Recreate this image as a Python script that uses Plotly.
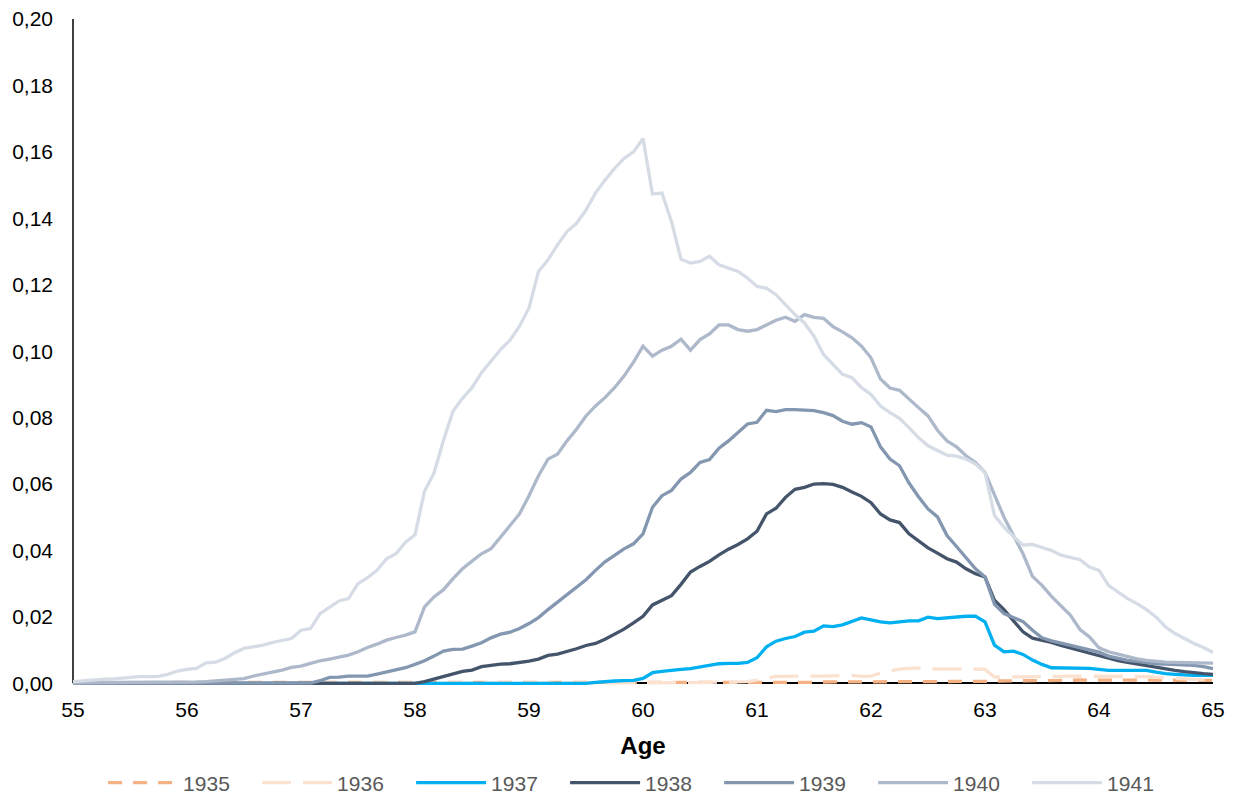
import plotly.graph_objects as go

# Age in months from 55 to 65 (monthly observations)
ages = [round(55 + m / 12, 4) for m in range(121)]

s1935 = [0.0]*10 + [0.0003]*10 + [0.0002]*20 + [0.0001]*20 + [
    0.0001, 0.0001, 0.0001, 0.0001, 0.0002, 0.0002, 0.0002, 0.0002, 0.0002, 0.0002, 0.0002, 0.0003,
    0.0003, 0.0003, 0.0003, 0.0003, 0.0003, 0.0003, 0.0003, 0.0004, 0.0004, 0.0004, 0.0004, 0.0004,
    0.0004, 0.0005, 0.0005, 0.0006, 0.0006, 0.0006, 0.0006, 0.0006, 0.0006, 0.0006, 0.0006, 0.0006,
    0.0006, 0.0007, 0.0007, 0.0007, 0.0008, 0.0008, 0.0008, 0.0009, 0.0009, 0.0009, 0.0010, 0.0010,
    0.0010, 0.0010, 0.0010, 0.0010, 0.0010, 0.0010, 0.0010, 0.0010, 0.0009, 0.0009, 0.0009, 0.0009,
    0.0009]

s1936 = [0.0]*60 + [
    0.0000, 0.0001, 0.0001, 0.0001, 0.0002, 0.0002, 0.0002, 0.0003, 0.0003, 0.0003, 0.0004, 0.0005,
    0.0010, 0.0015, 0.0021, 0.0021, 0.0022, 0.0022, 0.0022, 0.0022, 0.0023, 0.0025, 0.0024, 0.0021,
    0.0022, 0.0031, 0.0038, 0.0043, 0.0045, 0.0046, 0.0044, 0.0043, 0.0043, 0.0043, 0.0044, 0.0044,
    0.0042, 0.0019, 0.0019, 0.0020, 0.0020, 0.0020, 0.0021, 0.0021, 0.0021, 0.0022, 0.0022, 0.0022,
    0.0022, 0.0021, 0.0021, 0.0021, 0.0020, 0.0020, 0.0018, 0.0016, 0.0014, 0.0013, 0.0012, 0.0011,
    0.0010]

s1937 = [0.0]*55 + [
    0.0003, 0.0006, 0.0007, 0.0008, 0.0009,
    0.0015, 0.0032, 0.0036, 0.0040, 0.0042, 0.0044, 0.0049, 0.0053, 0.0059, 0.0060, 0.0060, 0.0063,
    0.0077, 0.0110, 0.0127, 0.0135, 0.0141, 0.0154, 0.0157, 0.0173, 0.0171, 0.0176, 0.0187, 0.0197,
    0.0191, 0.0185, 0.0182, 0.0185, 0.0188, 0.0188, 0.0199, 0.0195, 0.0198, 0.0201, 0.0202, 0.0202,
    0.0185, 0.0115, 0.0095, 0.0097, 0.0087, 0.0070, 0.0057, 0.0047, 0.0047, 0.0047, 0.0047, 0.0045,
    0.0042, 0.0039, 0.0039, 0.0039, 0.0039, 0.0039, 0.0034, 0.0029, 0.0027, 0.0025, 0.0024, 0.0024,
    0.0024]

s1938 = [0.0]*37 + [
    0.0005, 0.0013, 0.0021, 0.0029, 0.0036, 0.0040, 0.0050, 0.0054, 0.0058, 0.0059, 0.0062,
    0.0067, 0.0073, 0.0084, 0.0088, 0.0095, 0.0104, 0.0114, 0.0120, 0.0133, 0.0148, 0.0163, 0.0182,
    0.0202, 0.0236, 0.0249, 0.0264, 0.0298, 0.0335, 0.0352, 0.0367, 0.0387, 0.0404, 0.0418, 0.0435,
    0.0458, 0.0510, 0.0527, 0.0560, 0.0584, 0.0590, 0.0600, 0.0601, 0.0599, 0.0590, 0.0576, 0.0563,
    0.0544, 0.0510, 0.0492, 0.0484, 0.0450, 0.0428, 0.0408, 0.0392, 0.0375, 0.0365, 0.0345, 0.0330,
    0.0320, 0.0250, 0.0222, 0.0188, 0.0155, 0.0136, 0.0130, 0.0123, 0.0114, 0.0106, 0.0099, 0.0091,
    0.0084, 0.0075, 0.0068, 0.0063, 0.0058, 0.0052, 0.0047, 0.0043, 0.0039, 0.0035, 0.0031, 0.0029,
    0.0027]

s1939 = [0.0]*25 + [
    0.0001, 0.0008, 0.0018, 0.0019, 0.0022, 0.0022, 0.0022, 0.0028, 0.0035, 0.0040, 0.0047,
    0.0057, 0.0068, 0.0082, 0.0097, 0.0102, 0.0103, 0.0112, 0.0122, 0.0137, 0.0148, 0.0154, 0.0165,
    0.0180, 0.0198, 0.0222, 0.0244, 0.0265, 0.0288, 0.0312, 0.0340, 0.0366, 0.0385, 0.0405, 0.0420,
    0.0450, 0.0530, 0.0565, 0.0581, 0.0615, 0.0635, 0.0665, 0.0674, 0.0708, 0.0730, 0.0755, 0.0781,
    0.0786, 0.0822, 0.0818, 0.0824, 0.0824, 0.0823, 0.0821, 0.0815, 0.0806, 0.0789, 0.0780, 0.0785,
    0.0772, 0.0712, 0.0675, 0.0655, 0.0603, 0.0562, 0.0525, 0.0501, 0.0445, 0.0412, 0.0378, 0.0345,
    0.0320, 0.0238, 0.0210, 0.0197, 0.0186, 0.0160, 0.0137, 0.0128, 0.0121, 0.0114, 0.0107, 0.0100,
    0.0094, 0.0082, 0.0075, 0.0069, 0.0066, 0.0062, 0.0059, 0.0058, 0.0057, 0.0055, 0.0054, 0.0050,
    0.0044]

s1940 = [0.0002]*12 + [
    0.0003, 0.0004, 0.0005, 0.0007, 0.0009, 0.0010, 0.0014, 0.0022, 0.0028, 0.0032, 0.0040, 0.0048,
    0.0052, 0.0060, 0.0068, 0.0073, 0.0078, 0.0085, 0.0095, 0.0108, 0.0118, 0.0130, 0.0138, 0.0145,
    0.0155, 0.0230, 0.0260, 0.0282, 0.0315, 0.0345, 0.0368, 0.0390, 0.0405, 0.0440, 0.0478, 0.0510,
    0.0565, 0.0625, 0.0675, 0.0690, 0.0730, 0.0765, 0.0805, 0.0835, 0.0860, 0.0890, 0.0925, 0.0967,
    0.1015, 0.0985, 0.1003, 0.1015, 0.1036, 0.1003, 0.1035, 0.1052, 0.1079, 0.1079, 0.1065, 0.1060,
    0.1065, 0.1080, 0.1093, 0.1102, 0.1090, 0.1110, 0.1102, 0.1099, 0.1074, 0.1058, 0.1040, 0.1015,
    0.0980, 0.0916, 0.0889, 0.0882, 0.0855, 0.0830, 0.0805, 0.0762, 0.0730, 0.0712, 0.0685, 0.0665,
    0.0635, 0.0565, 0.0500, 0.0445, 0.0390, 0.0322, 0.0295, 0.0262, 0.0232, 0.0205, 0.0162, 0.0140,
    0.0107, 0.0095, 0.0088, 0.0080, 0.0074, 0.0069, 0.0066, 0.0064, 0.0063, 0.0062, 0.0062, 0.0061,
    0.0061]

s1941 = [
    0.0005, 0.0008, 0.0010, 0.0012, 0.0013, 0.0016, 0.0019, 0.0020, 0.0020, 0.0021, 0.0027, 0.0037,
    0.0042, 0.0045, 0.0062, 0.0064, 0.0075, 0.0092, 0.0105, 0.0110, 0.0115, 0.0123, 0.0128, 0.0135,
    0.0160, 0.0165, 0.0210, 0.0228, 0.0248, 0.0255, 0.0300, 0.0318, 0.0340, 0.0375, 0.0390, 0.0425,
    0.0447, 0.0578, 0.0633, 0.0732, 0.0819, 0.0858, 0.0890, 0.0935, 0.0970, 0.1005, 0.1033, 0.1075,
    0.1130, 0.1240, 0.1275, 0.1320, 0.1360, 0.1385, 0.1425, 0.1476, 0.1515, 0.1550, 0.1580, 0.1600,
    0.1640, 0.1473, 0.1476, 0.1390, 0.1277, 0.1265, 0.1270, 0.1286, 0.1260, 0.1250, 0.1240, 0.1220,
    0.1195, 0.1190, 0.1170, 0.1140, 0.1110, 0.1085, 0.1045, 0.0990, 0.0960, 0.0930, 0.0920, 0.0890,
    0.0870, 0.0835, 0.0815, 0.0798, 0.0770, 0.0740, 0.0715, 0.0700, 0.0687, 0.0684, 0.0675, 0.0660,
    0.0635, 0.0505, 0.0470, 0.0442, 0.0416, 0.0418, 0.0410, 0.0400, 0.0386, 0.0380, 0.0372, 0.0350,
    0.0340, 0.0295, 0.0275, 0.0255, 0.0240, 0.0222, 0.0200, 0.0170, 0.0150, 0.0135, 0.0120, 0.0108,
    0.0093]

series = [
    ("1935", s1935, "#f4b183", "14px,11px"),
    ("1936", s1936, "#fbe2d0", "29px,12px"),
    ("1937", s1937, "#00b0f0", "solid"),
    ("1938", s1938, "#44546a", "solid"),
    ("1939", s1939, "#8497b0", "solid"),
    ("1940", s1940, "#adb9ca", "solid"),
    ("1941", s1941, "#d6dce5", "solid"),
]

x_ticks = [55, 56, 57, 58, 59, 60, 61, 62, 63, 64, 65]
y_ticks = [0.0, 0.02, 0.04, 0.06, 0.08, 0.10, 0.12, 0.14, 0.16, 0.18, 0.20]

fig = go.Figure()
for name, vals, color, dash in series:
    fig.add_trace(go.Scatter(
        x=ages, y=vals, name=name, mode="lines",
        line=dict(color=color, width=3.3, dash=dash),
    ))

FONT = "Liberation Sans, Arial, sans-serif"
ymin = -0.0008
fig.update_layout(
    width=1233, height=796,
    separators=",.",
    paper_bgcolor="white", plot_bgcolor="white",
    margin=dict(l=73, r=20, t=19, b=110, autoexpand=False),
    font=dict(family=FONT, size=21, color="#000000"),
    showlegend=True,
    legend=dict(
        orientation="h", x=0.0264, xanchor="left", y=-0.1454, yanchor="middle",
        font=dict(family=FONT, size=21, color="#595959"),
        entrywidth=69, entrywidthmode="pixels", itemwidth=70,
        traceorder="normal",
    ),
    xaxis=dict(
        range=[55, 65], tickvals=x_ticks, ticktext=[str(v) for v in x_ticks],
        showgrid=False, zeroline=False, showline=False, ticks="",
        title=dict(text="<b>Age</b>", font=dict(family=FONT, size=24, color="#000000"), standoff=17),
        tickfont=dict(family=FONT, size=21, color="#000000"),
        ticklabelstandoff=9,
    ),
    yaxis=dict(
        range=[ymin, 0.2], tickvals=y_ticks, tickformat=".2f",
        showgrid=False, showline=False, ticks="",
        zeroline=True, zerolinecolor="#000000", zerolinewidth=1.5,
        tickfont=dict(family=FONT, size=21, color="#000000"),
        ticklabelstandoff=19,
    ),
    shapes=[dict(type="line", xref="paper", yref="y", x0=0, x1=0, y0=0, y1=0.2,
                 line=dict(color="#000000", width=1.5), layer="below")],
)

fig.write_html("out.html")
